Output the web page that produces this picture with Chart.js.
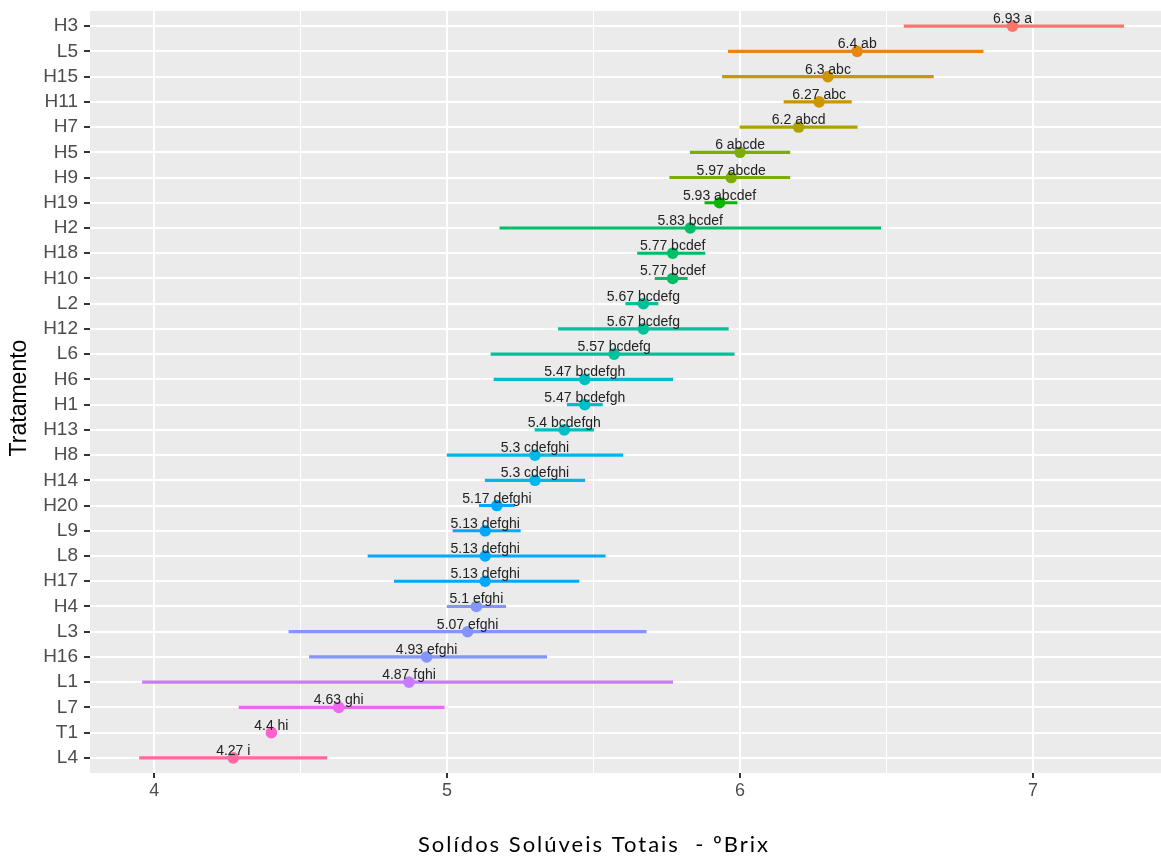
<!DOCTYPE html>
<html lang="pt">
<head>
<meta charset="utf-8">
<title>Solídos Solúveis Totais por tratamento</title>
<script src="https://cdn.jsdelivr.net/npm/chart.js@4/dist/chart.umd.min.js"></script>
<style>
  html, body { margin: 0; padding: 0; background: #ffffff; }
  #wrap { width: 1161px; height: 859px; position: relative; }
</style>
</head>
<body>
<div id="wrap"><canvas id="chart"></canvas></div>
<script>
// Treatments, top to bottom
const categories = ['H3','L5','H15','H11','H7','H5','H9','H19','H2','H18','H10','L2','H12','L6','H6',
                    'H1','H13','H8','H14','H20','L9','L8','H17','H4','L3','H16','L1','L7','T1','L4'];

// Mean °Brix per treatment
const means = [6.93, 6.4, 6.3, 6.27, 6.2, 6, 5.97, 5.93, 5.83, 5.77, 5.77, 5.67, 5.67, 5.57, 5.47,
               5.47, 5.4, 5.3, 5.3, 5.17, 5.13, 5.13, 5.13, 5.1, 5.07, 4.93, 4.87, 4.63, 4.4, 4.27];

// Tukey grouping letters
const groups = ['a','ab','abc','abc','abcd','abcde','abcde','abcdef','bcdef','bcdef','bcdef','bcdefg',
                'bcdefg','bcdefg','bcdefgh','bcdefgh','bcdefgh','cdefghi','cdefghi','defghi','defghi',
                'defghi','defghi','efghi','efghi','efghi','fghi','ghi','hi','i'];

// Error bar limits (T1 has none)
const lower = [6.56, 5.96, 5.94, 6.15, 6.00, 5.83, 5.76, 5.88, 5.18, 5.65, 5.71, 5.61, 5.38, 5.15, 5.16,
               5.41, 5.30, 5.00, 5.13, 5.11, 5.02, 4.73, 4.82, 5.00, 4.46, 4.53, 3.96, 4.29, null, 3.95];
const upper = [7.31, 6.83, 6.66, 6.38, 6.40, 6.17, 6.17, 5.99, 6.48, 5.88, 5.82, 5.72, 5.96, 5.98, 5.77,
               5.53, 5.50, 5.60, 5.47, 5.23, 5.25, 5.54, 5.45, 5.20, 5.68, 5.34, 5.77, 4.99, null, 4.59];

// Positions of the vertical grid lines; whole numbers carry labels
const xGridValues = [4, 4.5, 5, 5.5, 6, 6.5, 7];

// Hue palette, one colour per grouping level
const groupLevels = ['a','ab','abc','abcd','abcde','abcdef','bcdef','bcdefg','bcdefgh','cdefghi',
                     'defghi','efghi','fghi','ghi','hi','i'];
const palette = ['#F8766D','#E68613','#CD9600','#ABA300','#7CAE00','#0CB702','#00BE67','#00C19A',
                 '#00BFC4','#00B8E7','#00A9FF','#8494FF','#C77CFF','#ED68ED','#FF61CC','#FF68A1'];
const colorOf = g => palette[groupLevels.indexOf(g)];
const colors = groups.map(colorOf);

const SANS = '"Liberation Sans", Arial, Helvetica, sans-serif';

const panelBackground = {
  id: 'panelBackground',
  beforeDraw(chart) {
    const { ctx, chartArea: a } = chart;
    ctx.save();
    ctx.fillStyle = '#EBEBEB';
    ctx.fillRect(a.left, a.top, a.right - a.left, a.bottom - a.top);
    ctx.restore();
  }
};

const valueLabels = {
  id: 'valueLabels',
  afterDatasetsDraw(chart) {
    const { ctx } = chart;
    const xs = chart.scales.x, ys = chart.scales.y;
    ctx.save();
    ctx.font = '14px ' + SANS;
    ctx.fillStyle = '#222222';
    ctx.textAlign = 'center';
    ctx.textBaseline = 'alphabetic';
    means.forEach((m, i) => {
      const px = xs.getPixelForValue(m);
      const py = ys.getPixelForValue(i + 1);
      ctx.fillText(m + ' ' + groups[i], px, py - 3);
    });
    ctx.restore();
  }
};

const axisTitles = {
  id: 'axisTitles',
  afterDraw(chart) {
    const { ctx } = chart;
    ctx.save();
    ctx.fillStyle = '#000000';
    ctx.textAlign = 'center';
    ctx.textBaseline = 'middle';
    ctx.font = '23px ' + SANS;
    ctx.translate(20, 398);
    ctx.rotate(-Math.PI / 2);
    ctx.fillText('Tratamento', 0, 0);
    ctx.restore();

    ctx.save();
    ctx.fillStyle = '#000000';
    ctx.textAlign = 'center';
    ctx.textBaseline = 'middle';
    ctx.font = '22px Lato, "Noto Sans", sans-serif';
    ctx.letterSpacing = '2px';
    ctx.fillText('Solídos Solúveis Totais  - ºBrix', 594, 845);
    ctx.restore();
  }
};

new Chart(document.getElementById('chart'), {
  type: 'bar',
  data: {
    datasets: [
      {
        type: 'scatter',
        label: 'Média',
        data: means.map((m, i) => ({ x: m, y: i + 1 })),
        backgroundColor: colors,
        borderWidth: 0,
        pointRadius: 5.8,
        pointHoverRadius: 5.8,
        order: 0
      },
      {
        type: 'bar',
        label: 'Intervalo',
        data: categories.map((c, i) => ({ y: i + 1, x: lower[i] == null ? null : [lower[i], upper[i]] })),
        backgroundColor: colors,
        borderWidth: 0,
        borderSkipped: false,
        barThickness: 2.5,
        grouped: false,
        order: 1
      }
    ]
  },
  options: {
    indexAxis: 'y',
    responsive: true,
    maintainAspectRatio: false,
    animation: false,
    events: [],
    layout: { autoPadding: false, padding: { top: 11, right: 0, bottom: 0, left: 0 } },
    plugins: {
      legend: { display: false },
      tooltip: { enabled: false }
    },
    scales: {
      x: {
        type: 'linear',
        position: 'bottom',
        offset: false,
        min: 3.781,
        max: 7.437,
        afterBuildTicks: s => { s.ticks = xGridValues.map(v => ({ value: v })); },
        afterFit: s => { s.height = 86; s.paddingLeft = 0; s.paddingRight = 0; },
        ticks: {
          autoSkip: false,
          maxRotation: 0,
          padding: 2,
          color: '#4D4D4D',
          font: { family: SANS, size: 18 },
          callback: v => (Number.isInteger(v) ? String(v) : '')
        },
        grid: {
          offset: false,
          color: '#FFFFFF',
          lineWidth: c => (c.tick && Number.isInteger(c.tick.value) ? 2 : 1),
          tickColor: c => (c.tick && Number.isInteger(c.tick.value) ? '#333333' : 'rgba(0,0,0,0)'),
          tickLength: 5,
          tickWidth: 2
        },
        border: { display: false }
      },
      y: {
        type: 'linear',
        position: 'left',
        reverse: true,
        offset: false,
        min: 0.4,
        max: 30.6,
        afterBuildTicks: s => { s.ticks = categories.map((c, i) => ({ value: i + 1 })); },
        afterFit: s => { s.width = 90; s.paddingTop = 0; s.paddingBottom = 0; },
        ticks: {
          autoSkip: false,
          padding: 6,
          color: '#4D4D4D',
          font: { family: SANS, size: 19 },
          callback: v => categories[v - 1]
        },
        grid: {
          offset: false,
          color: '#FFFFFF',
          lineWidth: 2,
          tickColor: '#333333',
          tickLength: 6,
          tickWidth: 2
        },
        border: { display: false }
      }
    }
  },
  plugins: [panelBackground, valueLabels, axisTitles]
});
</script>
</body>
</html>
